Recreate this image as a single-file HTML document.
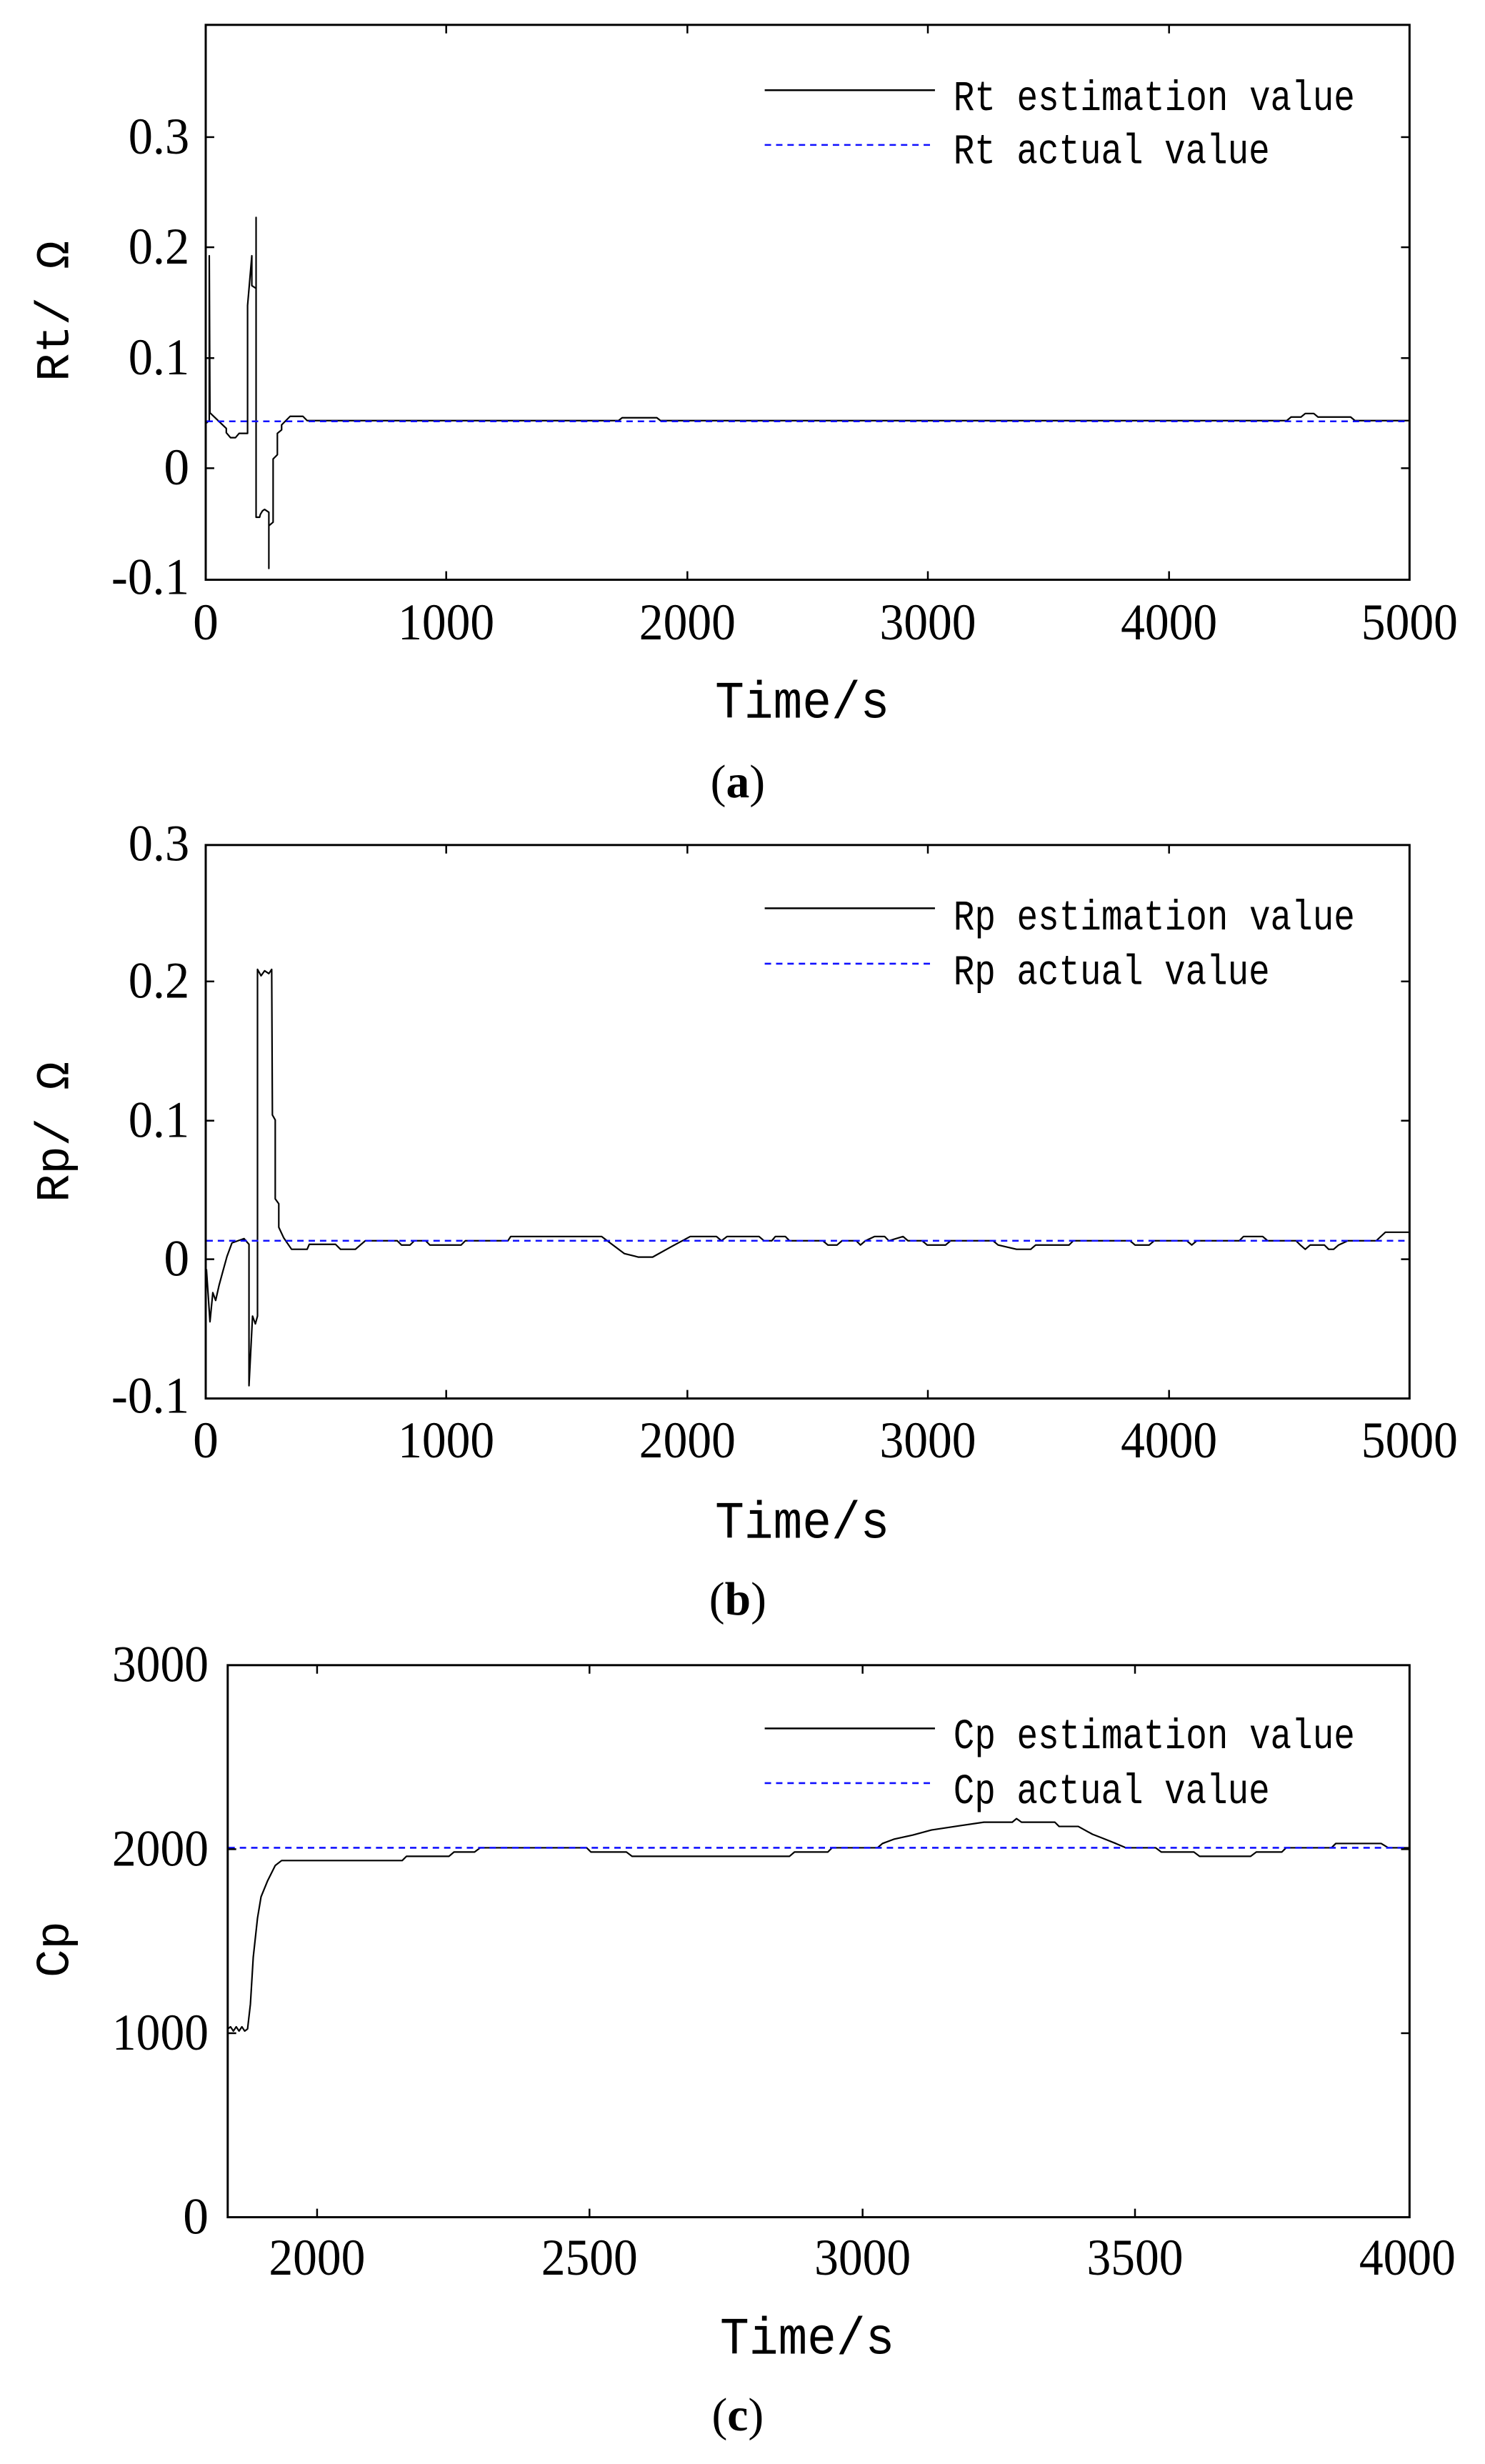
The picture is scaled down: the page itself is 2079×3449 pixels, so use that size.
<!DOCTYPE html>
<html><head><meta charset="utf-8"><style>
html,body{margin:0;padding:0;background:#fff;}
svg{display:block;}
.tk{font-family:"Liberation Serif",serif;font-size:72px;fill:#000;}
.mono{font-family:"Liberation Mono",monospace;fill:#000;}
.cap{font-family:"Liberation Serif",serif;font-size:66px;fill:#000;}
.ax{fill:none;stroke:#000;stroke-width:3;}
.d{fill:none;stroke:#000;stroke-width:2.2;stroke-linejoin:round;}
.b{fill:none;stroke:#1010ff;stroke-width:2.6;stroke-dasharray:9 7;}
</style></head><body>
<svg width="2079" height="3449" viewBox="0 0 2079 3449" xmlns="http://www.w3.org/2000/svg">
<rect width="2079" height="3449" fill="#fff"/>
<g transform="scale(0.99313 1)">

<!-- ===== (a) ===== -->
<g transform="scale(1 0.9945)">
<path class="d" d="M290,596 L295,592 L295,360 L296,581 L319,603 L319,609 L325,616 L332,616 L337,610 L349,610 L349,430 L355,360 L355,402 L361,406 L361,306 L361,728 L366,728 L367,724 L370,719 L373,717 L379,721 L379,800 L379,740 L385,735 L385,646 L391,640 L391,610 L397,605 L397,598 L403,592 L409,586 L427,586 L433,592 L872,592 L877,588 L926,588 L931,592 L1814,592 L1820,587 L1834,587 L1840,582 L1852,582 L1858,587 L1904,587 L1910,592 L1987,592"/>
<line class="b" x1="291" y1="593" x2="1986" y2="593"/>
<rect class="ax" x="290" y="35" width="1697" height="781"/>
<g stroke="#000" stroke-width="2.5">
<line x1="629" y1="816" x2="629" y2="804"/><line x1="969" y1="816" x2="969" y2="804"/><line x1="1308" y1="816" x2="1308" y2="804"/><line x1="1648" y1="816" x2="1648" y2="804"/>
<line x1="629" y1="35" x2="629" y2="47"/><line x1="969" y1="35" x2="969" y2="47"/><line x1="1308" y1="35" x2="1308" y2="47"/><line x1="1648" y1="35" x2="1648" y2="47"/>
<line x1="290" y1="193" x2="302" y2="193"/><line x1="290" y1="348" x2="302" y2="348"/><line x1="290" y1="504" x2="302" y2="504"/><line x1="290" y1="659" x2="302" y2="659"/>
<line x1="1987" y1="193" x2="1975" y2="193"/><line x1="1987" y1="348" x2="1975" y2="348"/><line x1="1987" y1="504" x2="1975" y2="504"/><line x1="1987" y1="659" x2="1975" y2="659"/>
</g>
<g class="tk" text-anchor="end">
<text x="267" y="216" textLength="86" lengthAdjust="spacingAndGlyphs">0.3</text>
<text x="267" y="371" textLength="86" lengthAdjust="spacingAndGlyphs">0.2</text>
<text x="267" y="527" textLength="86" lengthAdjust="spacingAndGlyphs">0.1</text>
<text x="267" y="682">0</text>
<text x="267" y="836" textLength="110" lengthAdjust="spacingAndGlyphs">-0.1</text>
</g>
<g class="tk" text-anchor="middle">
<text x="290" y="900">0</text>
<text x="629" y="900" textLength="136" lengthAdjust="spacingAndGlyphs">1000</text>
<text x="969" y="900" textLength="136" lengthAdjust="spacingAndGlyphs">2000</text>
<text x="1308" y="900" textLength="136" lengthAdjust="spacingAndGlyphs">3000</text>
<text x="1648" y="900" textLength="136" lengthAdjust="spacingAndGlyphs">4000</text>
<text x="1987" y="900" textLength="136" lengthAdjust="spacingAndGlyphs">5000</text>
</g>
<line x1="1078" y1="127" x2="1318" y2="127" stroke="#000" stroke-width="2.5"/>
<line class="b" x1="1078" y1="204" x2="1318" y2="204"/>
<text class="mono" x="1344" y="155" font-size="60" textLength="566" lengthAdjust="spacingAndGlyphs">Rt estimation value</text>
<text class="mono" x="1344" y="230" font-size="60" textLength="446" lengthAdjust="spacingAndGlyphs">Rt actual value</text>
<text class="mono" x="1131" y="1010" font-size="74" text-anchor="middle" textLength="246" lengthAdjust="spacingAndGlyphs">Time/s</text>
<text class="mono" font-size="66" text-anchor="middle" transform="translate(96,438) rotate(-90)">Rt/ Ω</text>
<text class="cap" x="1040" y="1122" text-anchor="middle">(<tspan font-weight="bold">a</tspan>)</text>
</g>

<!-- ===== (b) ===== -->
<g transform="translate(0 1150) scale(1 0.9945) translate(0 -1150)">
<path class="d" d="M291,1780 L296,1854 L300,1813 L304,1824 L309,1802 L315,1780 L320,1762 L327,1743 L344,1737 L351,1745 L351,1944 L356,1846 L360,1857 L363,1846 L363,1358 L368,1367 L373,1360 L379,1364 L383,1358 L384,1563 L388,1570 L388,1681 L393,1688 L393,1721 L400,1736 L411,1752 L433,1752 L436,1745 L473,1745 L480,1752 L501,1752 L515,1740 L560,1740 L566,1746 L578,1746 L584,1740 L600,1740 L606,1746 L650,1746 L656,1740 L716,1740 L720,1734 L848,1734 L856,1740 L880,1758 L900,1763 L920,1763 L947,1748 L973,1734 L1010,1734 L1017,1740 L1025,1734 L1070,1734 L1077,1740 L1088,1740 L1093,1734 L1107,1734 L1113,1740 L1160,1740 L1167,1746 L1180,1746 L1187,1740 L1207,1740 L1213,1746 L1220,1740 L1233,1734 L1247,1734 L1253,1740 L1273,1734 L1280,1740 L1300,1740 L1307,1746 L1333,1746 L1340,1740 L1400,1740 L1407,1746 L1433,1752 L1453,1752 L1460,1746 L1507,1746 L1513,1740 L1593,1740 L1600,1746 L1620,1746 L1627,1740 L1673,1740 L1680,1746 L1687,1740 L1747,1740 L1753,1734 L1780,1734 L1787,1740 L1827,1740 L1833,1746 L1840,1752 L1847,1746 L1867,1746 L1873,1752 L1880,1752 L1887,1746 L1900,1740 L1940,1740 L1953,1728 L1987,1728"/>
<line class="b" x1="291" y1="1740" x2="1986" y2="1740"/>
<rect class="ax" x="290" y="1183" width="1697" height="779"/>
<g stroke="#000" stroke-width="2.5">
<line x1="629" y1="1962" x2="629" y2="1950"/><line x1="969" y1="1962" x2="969" y2="1950"/><line x1="1308" y1="1962" x2="1308" y2="1950"/><line x1="1648" y1="1962" x2="1648" y2="1950"/>
<line x1="629" y1="1183" x2="629" y2="1195"/><line x1="969" y1="1183" x2="969" y2="1195"/><line x1="1308" y1="1183" x2="1308" y2="1195"/><line x1="1648" y1="1183" x2="1648" y2="1195"/>
<line x1="290" y1="1375" x2="302" y2="1375"/><line x1="290" y1="1571" x2="302" y2="1571"/><line x1="290" y1="1766" x2="302" y2="1766"/>
<line x1="1987" y1="1375" x2="1975" y2="1375"/><line x1="1987" y1="1571" x2="1975" y2="1571"/><line x1="1987" y1="1766" x2="1975" y2="1766"/>
</g>
<g class="tk" text-anchor="end">
<text x="267" y="1205" textLength="86" lengthAdjust="spacingAndGlyphs">0.3</text>
<text x="267" y="1398" textLength="86" lengthAdjust="spacingAndGlyphs">0.2</text>
<text x="267" y="1594" textLength="86" lengthAdjust="spacingAndGlyphs">0.1</text>
<text x="267" y="1789">0</text>
<text x="267" y="1982" textLength="110" lengthAdjust="spacingAndGlyphs">-0.1</text>
</g>
<g class="tk" text-anchor="middle">
<text x="290" y="2045">0</text>
<text x="629" y="2045" textLength="136" lengthAdjust="spacingAndGlyphs">1000</text>
<text x="969" y="2045" textLength="136" lengthAdjust="spacingAndGlyphs">2000</text>
<text x="1308" y="2045" textLength="136" lengthAdjust="spacingAndGlyphs">3000</text>
<text x="1648" y="2045" textLength="136" lengthAdjust="spacingAndGlyphs">4000</text>
<text x="1987" y="2045" textLength="136" lengthAdjust="spacingAndGlyphs">5000</text>
</g>
<line x1="1078" y1="1272" x2="1318" y2="1272" stroke="#000" stroke-width="2.5"/>
<line class="b" x1="1078" y1="1350" x2="1318" y2="1350"/>
<text class="mono" x="1344" y="1302" font-size="60" textLength="566" lengthAdjust="spacingAndGlyphs">Rp estimation value</text>
<text class="mono" x="1344" y="1379" font-size="60" textLength="446" lengthAdjust="spacingAndGlyphs">Rp actual value</text>
<text class="mono" x="1131" y="2158" font-size="74" text-anchor="middle" textLength="246" lengthAdjust="spacingAndGlyphs">Time/s</text>
<text class="mono" font-size="66" text-anchor="middle" transform="translate(96,1587) rotate(-90)">Rp/ Ω</text>
<text class="cap" x="1040" y="2266" text-anchor="middle">(<tspan font-weight="bold">b</tspan>)</text>
</g>

<!-- ===== (c) ===== -->
<g transform="translate(0 2300) scale(1 0.9945) translate(0 -2300)">
<path class="d" d="M321,2843 L325,2840 L329,2846 L333,2840 L337,2846 L341,2840 L345,2846 L349,2843 L353,2808 L357,2742 L363,2687 L368,2657 L377,2635 L388,2613 L397,2606 L567,2606 L573,2600 L633,2600 L640,2594 L669,2594 L677,2588 L827,2588 L833,2594 L883,2594 L891,2600 L1113,2600 L1120,2594 L1167,2594 L1173,2588 L1237,2588 L1244,2582 L1260,2576 L1287,2570 L1313,2563 L1353,2557 L1387,2552 L1427,2552 L1433,2547 L1440,2552 L1487,2552 L1493,2558 L1520,2558 L1540,2569 L1553,2574 L1573,2582 L1587,2588 L1629,2588 L1637,2594 L1683,2594 L1691,2600 L1763,2600 L1771,2594 L1807,2594 L1813,2588 L1877,2588 L1883,2582 L1947,2582 L1957,2588 L1987,2588"/>
<line class="b" x1="322" y1="2588" x2="1986" y2="2588"/>
<rect class="ax" x="321" y="2331" width="1666" height="777"/>
<g stroke="#000" stroke-width="2.5">
<line x1="447" y1="3108" x2="447" y2="3096"/><line x1="831" y1="3108" x2="831" y2="3096"/><line x1="1216" y1="3108" x2="1216" y2="3096"/><line x1="1600" y1="3108" x2="1600" y2="3096"/>
<line x1="447" y1="2331" x2="447" y2="2343"/><line x1="831" y1="2331" x2="831" y2="2343"/><line x1="1216" y1="2331" x2="1216" y2="2343"/><line x1="1600" y1="2331" x2="1600" y2="2343"/>
<line x1="321" y1="2590" x2="333" y2="2590"/><line x1="321" y1="2849" x2="333" y2="2849"/>
<line x1="1987" y1="2590" x2="1975" y2="2590"/><line x1="1987" y1="2849" x2="1975" y2="2849"/>
</g>
<g class="tk" text-anchor="end">
<text x="294" y="2354" textLength="136" lengthAdjust="spacingAndGlyphs">3000</text>
<text x="294" y="2613" textLength="136" lengthAdjust="spacingAndGlyphs">2000</text>
<text x="294" y="2872" textLength="136" lengthAdjust="spacingAndGlyphs">1000</text>
<text x="294" y="3131">0</text>
</g>
<g class="tk" text-anchor="middle">
<text x="447" y="3189" textLength="136" lengthAdjust="spacingAndGlyphs">2000</text>
<text x="831" y="3189" textLength="136" lengthAdjust="spacingAndGlyphs">2500</text>
<text x="1216" y="3189" textLength="136" lengthAdjust="spacingAndGlyphs">3000</text>
<text x="1600" y="3189" textLength="136" lengthAdjust="spacingAndGlyphs">3500</text>
<text x="1984" y="3189" textLength="136" lengthAdjust="spacingAndGlyphs">4000</text>
</g>
<line x1="1078" y1="2420" x2="1318" y2="2420" stroke="#000" stroke-width="2.5"/>
<line class="b" x1="1078" y1="2497" x2="1318" y2="2497"/>
<text class="mono" x="1344" y="2448" font-size="60" textLength="566" lengthAdjust="spacingAndGlyphs">Cp estimation value</text>
<text class="mono" x="1344" y="2525" font-size="60" textLength="446" lengthAdjust="spacingAndGlyphs">Cp actual value</text>
<text class="mono" x="1138" y="3300" font-size="74" text-anchor="middle" textLength="246" lengthAdjust="spacingAndGlyphs">Time/s</text>
<text class="mono" font-size="66" text-anchor="middle" transform="translate(96,2731) rotate(-90)">Cp</text>
<text class="cap" x="1040" y="3408" text-anchor="middle">(<tspan font-weight="bold">c</tspan>)</text>
</g>
</g>
</svg>
</body></html>
